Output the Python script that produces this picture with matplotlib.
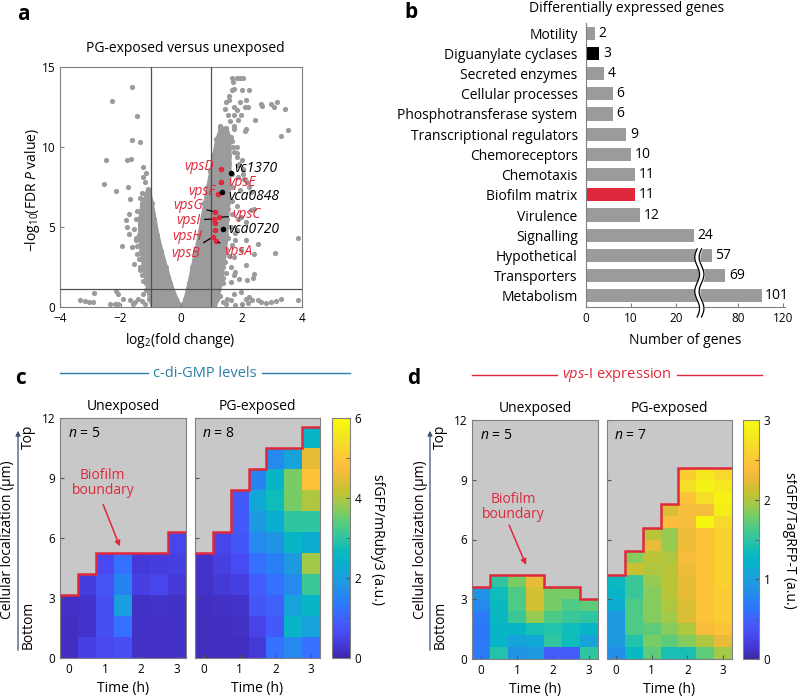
import numpy as np
import matplotlib

matplotlib.use("Agg")
import matplotlib.pyplot as plt
from matplotlib.colors import LinearSegmentedColormap
from matplotlib.lines import Line2D
from matplotlib.patches import FancyArrowPatch
from matplotlib.ticker import MultipleLocator

FONT = "Open Sans"
plt.rcParams["font.family"] = [FONT, "DejaVu Sans"]
plt.rcParams["mathtext.fontset"] = "custom"
plt.rcParams["mathtext.rm"] = FONT
plt.rcParams["mathtext.it"] = FONT + ":italic"

W, H = 797, 699
RED = "#e0283c"
TEAL = "#2a7fa5"
GREY = "#9b9b9b"
SPINE = "#808080"

# ---------------------------------------------------------------- panel a data
# dense core of the volcano (the two arms of the V)
left_arm_y = [0.0, 0.5, 1.5, 2.5, 3.5, 4.5, 5.5, 6.5, 7.2]
left_arm_x_outer = [-0.95, -1.05, -1.15, -1.25, -1.33, -1.38, -1.38, -1.3, -1.12]
left_arm_x_inner = [0.0, -0.15, -0.35, -0.5, -0.65, -0.78, -0.88, -0.97, -1.05]
right_arm_y = [0.0, 0.5, 1.5, 2.5, 3.5, 4.5, 5.5, 6.5, 7.5, 8.5, 9.5, 10.5, 11.2]
right_arm_x_inner = [0.0, 0.12, 0.25, 0.36, 0.47, 0.58, 0.68, 0.77, 0.87, 0.97, 1.07, 1.17, 1.3]
right_arm_x_outer = [1.1, 1.2, 1.3, 1.38, 1.45, 1.5, 1.52, 1.55, 1.58, 1.6, 1.6, 1.6, 1.5]

# scattered genes outside the dense core
genes_fc = [
    -1.61, -2.29, -1.44, -2.48, -2.54, -2.14, -1.61, -1.35, -1.80, -1.66, -1.24, -1.74, -1.68,
    -1.82, -1.80, -1.71, -1.96, -1.63, -1.48, -1.46, -1.57, -1.35, -2.15, -2.07, -2.88, -3.35,
    -3.18, -3.04, -2.90, -2.35, -2.18, -2.07, -1.93, -1.52, -1.41, -1.24, -1.15,
    -1.45, -1.5, -1.55, -1.5, -1.45, -1.4, -1.35, -1.3, -1.25, -1.15, -1.2, -1.35, -1.3, -1.1,
    -1.6, -1.7, -1.2, -1.3, -1.27, -1.2, -1.73, -1.15,
    1.67, 1.84, 1.95, 2.06, 1.72, 1.67, 1.75, 2.03, 2.25, 1.60, 1.75, 1.95, 2.16, 2.23, 2.11,
    2.64, 2.69, 2.97, 3.06, 3.17, 3.45, 3.55, 3.30, 2.44, 1.97, 1.75, 2.14, 1.75, 1.53, 1.64,
    1.84, 1.75, 1.86, 1.92, 2.05, 2.08, 2.19, 2.25, 2.30, 2.42, 2.30, 2.14, 1.97, 3.86, 3.10,
    2.53, 2.42, 2.14, 2.42, 2.38, 2.19, 1.92, 1.75, 1.64, 1.39, 1.25, 1.20, 2.53, 2.64, 2.80,
    2.97, 3.14, 3.30, 3.86, 1.75, 1.97, 2.25, 2.36, 2.14, 1.53, 1.64, 1.40, 1.97, 2.14, 1.75,
    1.86, 1.80,
    1.3, 1.4, 1.55, 1.7, 1.35, 1.45, 1.72, 1.85, 1.5, 1.6, 1.9, 2.0, 1.7, 1.9, 2.05, 1.5, 1.7,
    1.95, 1.5, 1.7, 1.85, 1.55, 1.7, 1.9, 1.45, 1.65, 1.8, 1.55, 1.7, 1.5, 1.6, 1.45, 1.65,
    1.5, 1.8, 1.4, 1.55, 1.45, 1.6, 1.5, 1.62, 1.75, 1.9, 2.1, 1.85,
    1.15, 1.3, 1.5, 1.8, 2.0, 2.2,
]
genes_p = [
    13.75, 12.88, 11.96, 9.21, 7.67, 7.25, 10.46, 10.31, 9.17, 9.27, 8.75, 7.5, 6.77,
    5.42, 5.0, 4.58, 3.79, 3.75, 4.17, 3.33, 2.71, 2.29, 0.98, 0.79, 0.88, 0.46,
    0.35, 0.31, 0.31, 0.21, 0.21, 0.21, 0.52, 0.31, 0.52, 0.83, 1.08,
    6.0, 5.5, 4.9, 4.3, 3.8, 3.0, 2.5, 2.0, 1.6, 7.0, 6.6, 6.8, 7.1, 7.4,
    0.2, 0.45, 0.2, 0.4, 8.1, 7.8, 5.83, 8.4,
    14.33, 14.33, 14.33, 14.33, 14.06, 13.54, 13.65, 13.58, 13.54, 12.96, 12.5, 12.79, 12.96, 12.5, 12.5,
    12.67, 12.54, 12.67, 12.5, 12.83, 12.4, 11.04, 10.69, 11.67, 11.98, 11.98, 11.15, 11.15, 10.83, 10.63,
    10.0, 9.69, 9.38, 8.96, 8.33, 8.02, 7.81, 7.5, 7.19, 6.15, 6.04, 5.31, 5.63, 4.33, 3.40,
    3.96, 3.33, 2.65, 2.08, 1.83, 1.67, 1.77, 1.98, 1.56, 1.5, 1.35, 1.04, 0.42, 0.31, 0.27,
    0.31, 0.35, 0.48, 0.46, 0.83, 0.94, 0.63, 0.42, 0.52, 0.52, 0.42, 0.31, 3.54, 4.17, 3.13,
    4.79, 4.17,
    11.3, 11.0, 10.7, 10.4, 10.2, 9.9, 10.0, 9.6, 9.4, 9.0, 8.9, 9.2, 8.3, 8.1, 8.6, 7.6, 7.5,
    7.3, 6.8, 6.6, 6.3, 6.1, 5.8, 5.5, 5.2, 5.0, 4.6, 4.3, 3.9, 3.6, 3.2, 2.8, 2.5,
    2.1, 2.2, 1.8, 12.0, 12.4, 13.2, 12.8, 11.6, 11.3, 11.7, 11.0, 12.3,
    0.9, 0.7, 0.2, 0.15, 0.2, 0.25,
]

vps_names = ["vpsD", "vpsE", "vpsF", "vpsG", "vpsC", "vpsI", "vpsH", "vpsB", "vpsA"]
vps_fc = [1.32, 1.31, 1.22, 1.14, 1.27, 1.08, 1.12, 1.05, 1.15]
vps_p = [8.6, 7.81, 7.08, 5.94, 5.6, 5.5, 4.79, 4.38, 4.13]
extra_vps_fc = [1.12]
extra_vps_p = [5.25]
other_names = ["vc1370", "vca0848", "vca0720"]
other_fc = [1.64, 1.37, 1.38]
other_p = [8.4, 7.19, 4.9]

# ---------------------------------------------------------------- panel b data
categories = [
    "Motility", "Diguanylate cyclases", "Secreted enzymes", "Cellular processes",
    "Phosphotransferase system", "Transcriptional regulators", "Chemoreceptors", "Chemotaxis",
    "Biofilm matrix", "Virulence", "Signalling", "Hypothetical", "Transporters", "Metabolism",
]
gene_counts = [2, 3, 4, 6, 6, 9, 10, 11, 11, 12, 24, 57, 69, 101]
black_category = "Diguanylate cyclases"
red_category = "Biofilm matrix"

# ---------------------------------------------------------------- panels c, d data
# one list per time point, cells listed from the bottom of the biofilm up
times = [0, 0.5, 1, 1.5, 2, 2.5, 3]
cdg_unexposed = [
    [0.18, 0.18, 0.2],
    [0.45, 0.25, 0.25, 0.4],
    [0.6, 0.7, 0.7, 0.75, 0.6],
    [0.7, 1.2, 2.0, 1.5, 1.2],
    [0.2, 0.2, 0.2, 0.45, 0.35],
    [0.2, 0.2, 0.25, 0.55, 0.4],
    [0.2, 0.2, 0.2, 0.35, 0.45, 0.55],
]
cdg_exposed = [
    [0.15, 0.15, 0.18, 0.22, 0.25],
    [0.18, 0.18, 0.2, 0.35, 0.45, 0.55],
    [0.18, 0.2, 0.25, 0.45, 0.65, 0.8, 0.85, 0.85],
    [0.35, 0.5, 0.8, 0.9, 1.2, 1.6, 1.9, 2.2, 1.5],
    [1.2, 0.85, 1.0, 1.2, 1.45, 1.8, 2.3, 2.7, 2.5, 1.6],
    [1.6, 2.5, 2.1, 1.6, 1.9, 2.5, 3.0, 3.6, 3.6, 2.1],
    [1.2, 2.1, 2.5, 3.1, 3.9, 2.3, 3.0, 4.0, 4.9, 4.5, 2.5],
]
vps_unexposed = [
    [0.7, 0.66, 0.66, 0.7, 0.8, 0.9],
    [1.45, 1.25, 1.25, 1.3, 1.3, 1.35, 1.5],
    [0.9, 1.05, 1.25, 1.55, 1.65, 1.65, 1.8],
    [0.95, 1.1, 1.4, 1.9, 2.15, 2.15, 2.25],
    [0.45, 1.5, 1.45, 1.65, 1.8, 1.8],
    [0.45, 1.35, 1.35, 1.55, 1.65, 1.8],
    [1.5, 1.05, 1.25, 1.5, 1.7],
]
vps_exposed = [
    [0.85, 0.95, 0.95, 0.95, 1.15, 1.25, 1.3],
    [1.3, 1.45, 1.65, 1.65, 1.65, 1.55, 1.55, 2.1, 1.85],
    [1.7, 1.8, 1.7, 1.85, 1.85, 1.85, 1.9, 2.0, 2.05, 2.25, 2.05],
    [1.4, 1.7, 1.85, 1.95, 2.0, 2.05, 2.05, 2.05, 2.0, 1.9, 1.9, 2.4, 2.2],
    [1.4, 1.85, 2.0, 2.2, 2.2, 2.25, 2.25, 2.3, 2.35, 2.3, 2.3, 2.35, 2.35, 2.45, 2.7, 2.55],
    [1.7, 2.0, 2.35, 2.45, 2.45, 2.45, 2.45, 2.45, 2.45, 2.45, 2.45, 2.95, 2.35, 2.7, 2.9, 2.8],
    [1.95, 2.25, 2.45, 2.55, 2.55, 2.55, 2.6, 2.6, 2.6, 2.6, 2.6, 2.65, 2.85, 2.9, 2.8, 2.65],
]

parula_points = [
    (0.00, (0.242, 0.150, 0.660)),
    (0.05, (0.271, 0.215, 0.836)),
    (0.10, (0.281, 0.288, 0.945)),
    (0.15, (0.265, 0.362, 0.990)),
    (0.20, (0.206, 0.438, 0.995)),
    (0.25, (0.154, 0.514, 0.950)),
    (0.30, (0.130, 0.580, 0.895)),
    (0.35, (0.086, 0.640, 0.850)),
    (0.40, (0.019, 0.698, 0.805)),
    (0.45, (0.053, 0.735, 0.730)),
    (0.50, (0.183, 0.772, 0.635)),
    (0.55, (0.303, 0.792, 0.525)),
    (0.60, (0.468, 0.800, 0.400)),
    (0.65, (0.638, 0.787, 0.283)),
    (0.70, (0.778, 0.761, 0.193)),
    (0.75, (0.896, 0.738, 0.218)),
    (0.80, (0.990, 0.743, 0.237)),
    (0.85, (0.990, 0.800, 0.200)),
    (0.90, (0.961, 0.870, 0.155)),
    (0.95, (0.960, 0.930, 0.100)),
    (1.00, (0.976, 0.983, 0.054)),
]
parula = LinearSegmentedColormap.from_list("parula", parula_points)


def rect(x0, y0, x1, y1):
    """Pixel box (top-left origin) -> figure fraction rect."""
    return [x0 / W, 1 - y1 / H, (x1 - x0) / W, (y1 - y0) / H]


def fig_text(fig, x, y, s, **kw):
    fig.text(x / W, 1 - y / H, s, **kw)


def fig_line(fig, x0, x1, y, color):
    fig.add_artist(Line2D([x0 / W, x1 / W], [1 - y / H] * 2, color=color, lw=1.0))


def volcano(fig):
    ax = fig.add_axes(rect(60, 67, 302, 307))
    ax.fill_betweenx(left_arm_y, left_arm_x_outer, left_arm_x_inner, color=GREY, lw=2.5, ec=GREY, zorder=1)
    ax.fill_betweenx(right_arm_y, right_arm_x_inner, right_arm_x_outer, color=GREY, lw=2.5, ec=GREY, zorder=1)
    ax.scatter(left_arm_x_outer + left_arm_x_inner, left_arm_y * 2, s=14, color=GREY, lw=0, zorder=1)
    ax.scatter(right_arm_x_outer + right_arm_x_inner, right_arm_y * 2, s=14, color=GREY, lw=0, zorder=1)
    ax.scatter(genes_fc, genes_p, s=14, color=GREY, lw=0, zorder=1)
    for v in (-1, 1):
        ax.axvline(v, color="#505050", lw=0.9, zorder=3)
    ax.axhline(1.1, color="#505050", lw=0.9, zorder=3)
    ax.scatter(vps_fc + extra_vps_fc, vps_p + extra_vps_p, s=16, color=RED, lw=0, zorder=5)
    ax.scatter(other_fc, other_p, s=16, color="black", lw=0, zorder=5)

    # label placement: (text x, text y, ha, leader line?)
    vps_layout = {
        "vpsD": (1.09, 8.81, "right", False), "vpsE": (1.55, 7.81, "left", False),
        "vpsF": (1.12, 7.19, "right", False), "vpsG": (0.72, 6.35, "right", True),
        "vpsC": (1.70, 5.75, "left", True), "vpsI": (0.64, 5.42, "right", True),
        "vpsH": (0.70, 4.42, "right", False), "vpsB": (0.64, 3.33, "right", True),
        "vpsA": (1.42, 3.44, "left", True),
    }
    for name, x, y in zip(vps_names, vps_fc, vps_p):
        tx, ty, ha, lead = vps_layout[name]
        props = dict(arrowstyle="-", color="black", lw=0.9, shrinkA=1, shrinkB=2) if lead else None
        ax.annotate(name, (x, y), xytext=(tx, ty), ha=ha, va="center", color=RED,
                    style="italic", fontsize=10, arrowprops=props, zorder=6)
    other_layout = {"vc1370": (1.75, 8.65), "vca0848": (1.58, 6.88), "vca0720": (1.58, 4.83)}
    for name in other_names:
        tx, ty = other_layout[name]
        ax.text(tx, ty, name, ha="left", va="center", style="italic", fontsize=10, zorder=6)

    ax.set_xlim(-4, 4)
    ax.set_ylim(0, 15)
    ax.set_xticks([-4, -2, 0, 2, 4])
    ax.set_yticks([0, 5, 10, 15])
    ax.tick_params(direction="in", length=3, labelsize=8.5, color=SPINE)
    for s in ax.spines.values():
        s.set_color(SPINE)
    fig_text(fig, 185, 48, "PG-exposed versus unexposed", ha="center", va="center", fontsize=10)
    fig_text(fig, 180, 341, "log$_2$(fold change)", ha="center", va="center", fontsize=10)
    fig_text(fig, 33, 190, "\u2212log$_{10}$(FDR $P$ value)", ha="center", va="center",
             rotation=90, fontsize=10)


BRK_LO, BRK_HI, K = 25.0, 47.0, 1.15 / 4.55


def _fwd(v):
    v = np.asarray(v, dtype=float)
    mid = BRK_LO + (v - BRK_LO) * 0.5 / (BRK_HI - BRK_LO)
    hi = BRK_LO + 0.5 + (v - BRK_HI) * K
    return np.where(v <= BRK_LO, v, np.where(v >= BRK_HI, hi, mid))


def _inv(u):
    u = np.asarray(u, dtype=float)
    mid = BRK_LO + (u - BRK_LO) * (BRK_HI - BRK_LO) / 0.5
    hi = BRK_HI + (u - BRK_LO - 0.5) / K
    return np.where(u <= BRK_LO, u, np.where(u >= BRK_LO + 0.5, hi, mid))


def gene_bars(fig):
    ax = fig.add_axes(rect(586, 23, 785, 307))
    ax.set_xscale("function", functions=(_fwd, _inv))
    ypos = np.arange(len(categories))[::-1]
    colors = ["black" if c == black_category else RED if c == red_category else GREY for c in categories]
    ax.barh(ypos, gene_counts, height=0.65, color=colors, zorder=2)
    for y, v in zip(ypos, gene_counts):
        ax.annotate(str(v), (v, y), xytext=(2.5, 0), textcoords="offset points",
                    va="center", ha="left", fontsize=10)
    xmax = 121.5
    ax.set_xlim(0, xmax)
    ax.set_ylim(-0.55, 13.5)
    ax.set_yticks(ypos)
    ax.set_yticklabels(categories, fontsize=10)
    ax.set_xticks([0, 10, 20, 80, 120])
    ax.set_xticklabels(["0", "10", "20", "80", "120"])
    ax.tick_params(axis="y", length=0, pad=6)
    ax.tick_params(axis="x", direction="in", length=3, labelsize=8.5, color=SPINE)
    for side in ("top", "right"):
        ax.spines[side].set_visible(False)
    for side in ("left", "bottom"):
        ax.spines[side].set_color(SPINE)

    # axis break
    c = float(_fwd((BRK_LO + BRK_HI) / 2)) / float(_fwd(xmax))
    yy = np.linspace(-0.035, 0.205, 80)
    xx = c + 0.012 * np.sin(2 * np.pi * 2 * (yy - yy[0]) / (yy[-1] - yy[0]))
    gap = 0.011
    ax.fill_betweenx(yy, xx - gap, xx + gap, color="white", transform=ax.transAxes, clip_on=False, zorder=4)
    for sgn in (-1, 1):
        ax.plot(xx + sgn * gap, yy, color="black", lw=0.9, transform=ax.transAxes, clip_on=False, zorder=5)

    fig_text(fig, 627, 8, "Differentially expressed genes", ha="center", va="center", fontsize=10)
    fig_text(fig, 685, 341, "Number of genes", ha="center", va="center", fontsize=10)


def heat(ax, cols, row_h, vmax, show_y):
    nrow = max(len(c) for c in cols)
    grid = np.full((nrow, len(cols)), np.nan)
    for j, c in enumerate(cols):
        grid[: len(c), j] = c
    t = np.asarray(times)
    x_edges = np.append(t - 0.25, t[-1] + 0.25)
    y_edges = np.arange(nrow + 1) * row_h
    ax.set_facecolor("#c8c8c8")
    m = ax.pcolormesh(x_edges, y_edges, np.ma.masked_invalid(grid), cmap=parula, vmin=0, vmax=vmax)
    tops = [len(c) * row_h for c in cols]
    ax.stairs(tops, x_edges, baseline=None, color=RED, lw=1.8, zorder=3)
    ax.set_xlim(x_edges[0], x_edges[-1])
    ax.set_ylim(0, 12)
    ax.set_xticks([0, 1, 2, 3])
    ax.set_yticks([0, 3, 6, 9, 12])
    ax.tick_params(direction="in", length=3, labelsize=8.5, color="#555555")
    if not show_y:
        ax.set_yticklabels([])
    ax.set_xlabel("Time (h)", fontsize=10, labelpad=4)
    for s in ax.spines.values():
        s.set_color(SPINE)
    return m


def heat_panel(fig, header, header_color, xs, y0, y1, cx, lines,
               unexp, exp, n_unexp, n_exp, row_h, vmax, cb_minor, cb_label, cb_lab_x, note):
    ax1 = fig.add_axes(rect(xs[0], y0, xs[1], y1))
    ax2 = fig.add_axes(rect(xs[2], y0, xs[3], y1))
    heat(ax1, unexp, row_h, vmax, True)
    m = heat(ax2, exp, row_h, vmax, False)
    ax1.set_title("Unexposed", fontsize=10, pad=6)
    ax2.set_title("PG-exposed", fontsize=10, pad=6)
    for ax, n in ((ax1, n_unexp), (ax2, n_exp)):
        ax.text(0.06, 0.965, f"$n$ = {n}", transform=ax.transAxes, ha="left", va="top", fontsize=10)
    (tx, ty), (ax_t, ay_t), (ax_h, ay_h) = note
    ax1.text(tx, ty, "Biofilm\nboundary", color=RED, ha="center", va="center", fontsize=10, linespacing=1.0)
    ax1.annotate("", xy=(ax_h, ay_h), xytext=(ax_t, ay_t),
                 arrowprops=dict(arrowstyle="-|>", color=RED, lw=1.1, mutation_scale=8))

    cax = fig.add_axes(rect(xs[4], y0, xs[5], y1))
    cb = fig.colorbar(m, cax=cax)
    cb.set_ticks(np.arange(0, vmax + 0.1, 2 if vmax > 3 else 1))
    cax.yaxis.set_minor_locator(MultipleLocator(cb_minor))
    cax.tick_params(which="both", direction="in", length=3, labelsize=8.5, color="#555555")
    cb.outline.set_edgecolor(SPINE)
    fig_text(fig, cb_lab_x, 540, cb_label, rotation=270, ha="center", va="center", fontsize=10)

    # header with side rules
    fig_text(fig, cx, lines[2], header, ha="center", va="center", color=header_color, fontsize=10.5)
    fig_line(fig, lines[0], lines[1], lines[2], header_color)
    fig_line(fig, lines[3], lines[4], lines[2], header_color)

    # y axis label, arrow and Top/Bottom
    lx = xs[0]
    fig_text(fig, lx - 52, 540, "Cellular localization (\u00b5m)", rotation=90, ha="center", va="center", fontsize=10)
    fig.add_artist(FancyArrowPatch(
        ((lx - 42) / W, 1 - 653 / H), ((lx - 42) / W, 1 - 428 / H), transform=fig.transFigure,
        arrowstyle="-|>", mutation_scale=7, color="#3c5070", lw=0.9))
    fig_text(fig, lx - 32, 437, "Top", rotation=90, ha="center", va="center", fontsize=10)
    fig_text(fig, lx - 32, 625, "Bottom", rotation=90, ha="center", va="center", fontsize=10)


fig = plt.figure(figsize=(W / 100, H / 100), dpi=100)
volcano(fig)
gene_bars(fig)

heat_panel(fig, "c-di-GMP levels", TEAL, (60, 186, 195, 320, 332, 350), 418, 658, 205,
           (60, 148, 373, 262, 350), cdg_unexposed, cdg_exposed, 5, 8, 1.05, 6, 1,
           "sfGFP/mRuby3 (a.u.)", 377, ((0.94, 8.75), (0.92, 7.8), (1.44, 5.45)))
heat_panel(fig, "$vps$-I expression", RED, (472, 598, 607, 732, 743, 759), 420, 659, 617,
           (472, 557, 375, 677, 762), vps_unexposed, vps_exposed, 5, 7, 0.6, 3, 0.5,
           "sfGFP/TagRFP-T (a.u.)", 789, ((0.89, 7.63), (0.75, 6.85), (1.28, 4.6)))

for letter, x, y in (("a", 23, 14), ("b", 411, 12), ("c", 20, 379), ("d", 414, 378)):
    fig_text(fig, x, y, letter, fontsize=15, fontweight="bold", ha="center", va="center")

fig.savefig("out.png", dpi=100)
